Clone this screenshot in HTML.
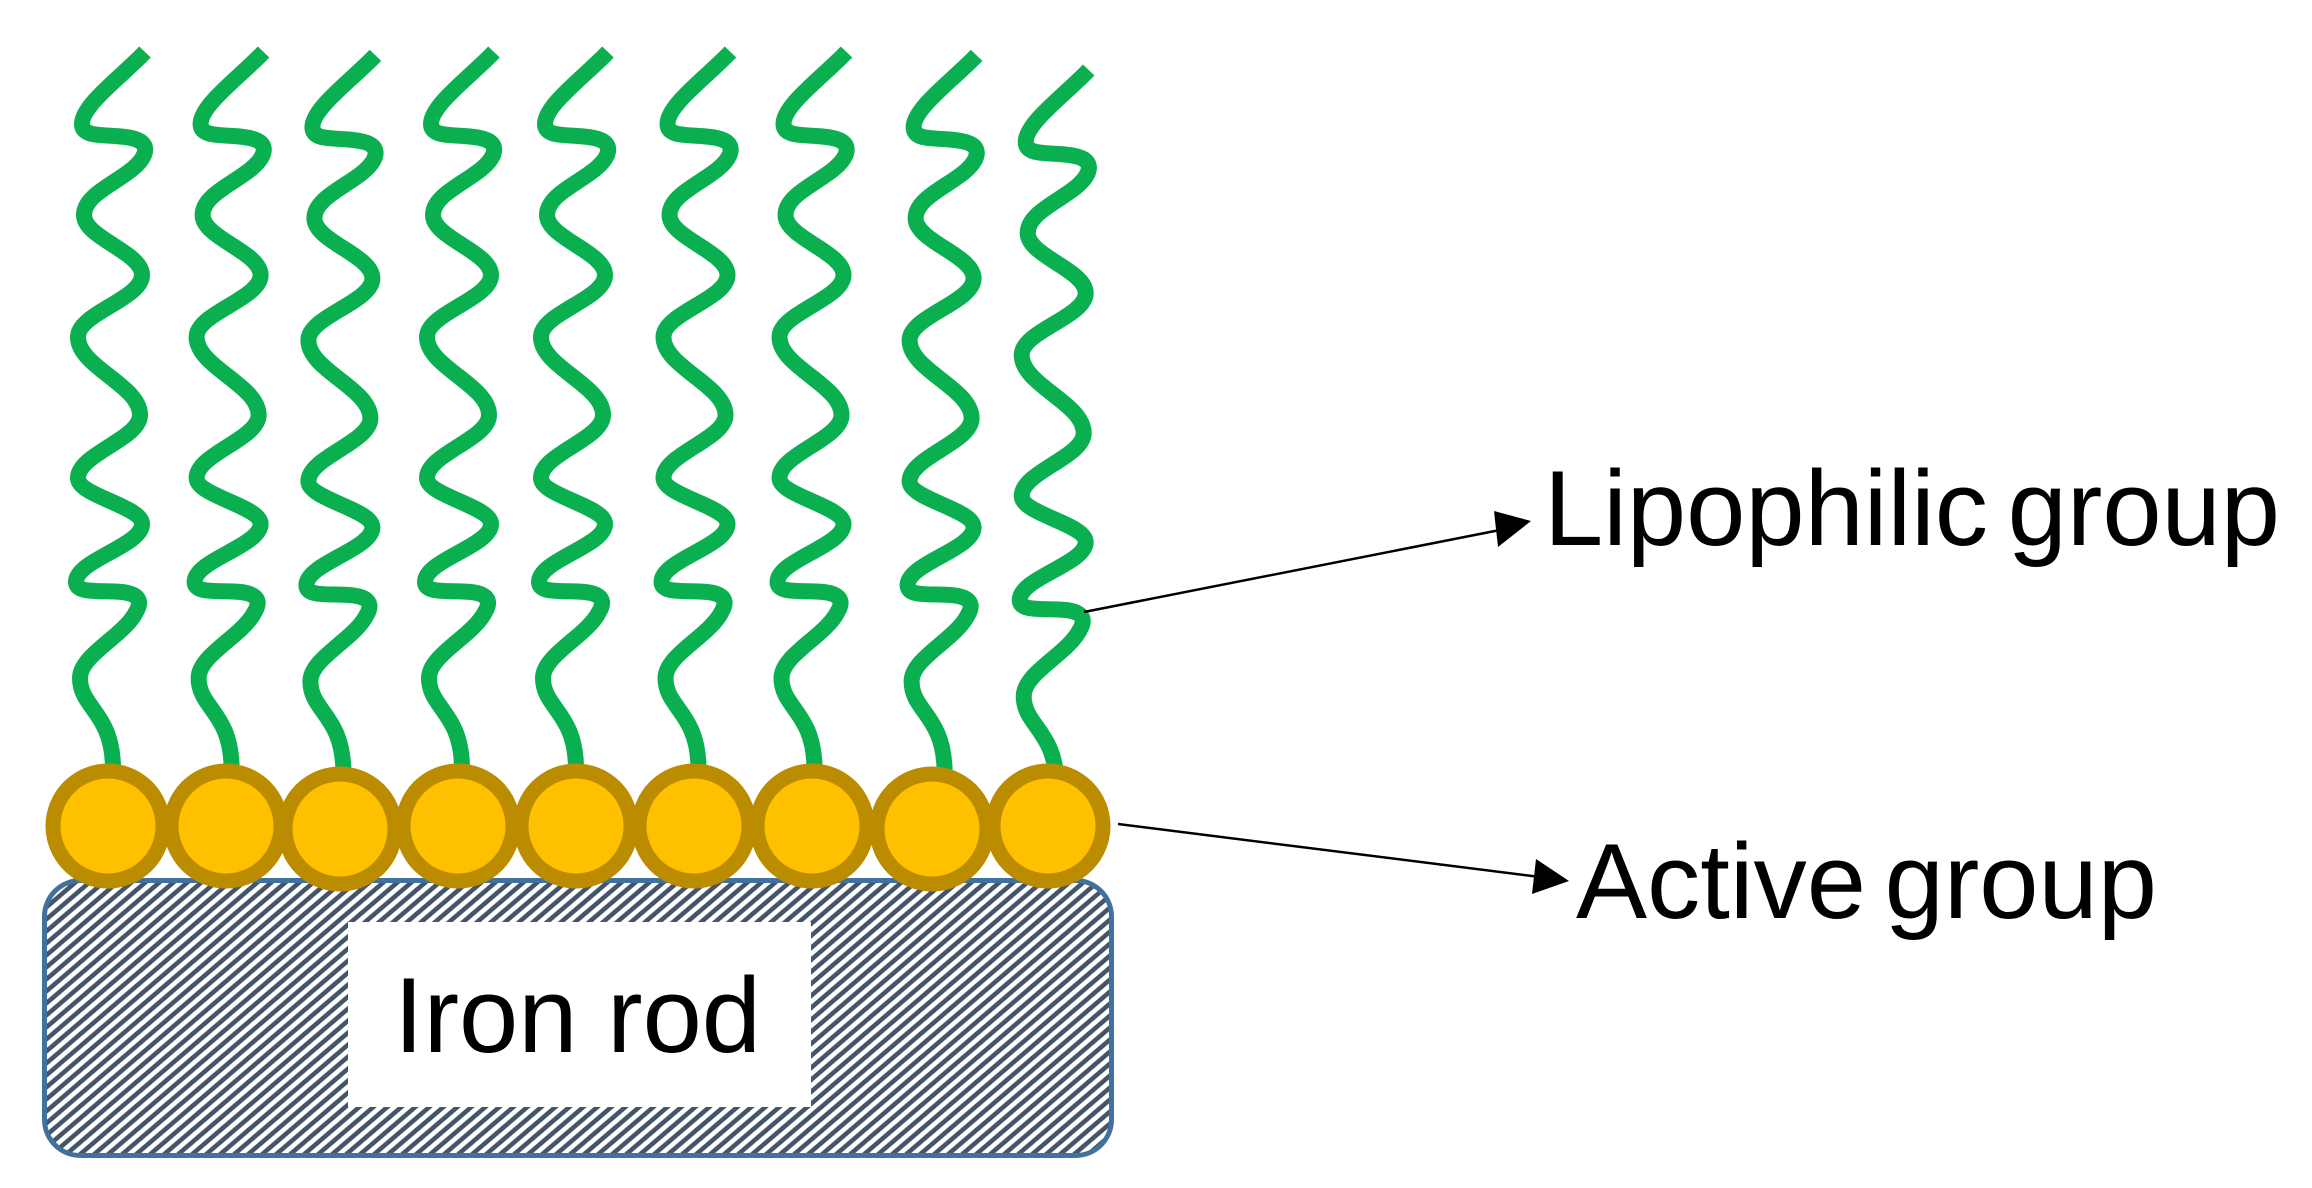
<!DOCTYPE html>
<html>
<head>
<meta charset="utf-8">
<style>
html,body{margin:0;padding:0;background:#fff;width:2312px;height:1188px;overflow:hidden}
svg{display:block}
text{font-family:"Liberation Sans",sans-serif;font-size:106.5px;fill:#000}
</style>
</head>
<body>
<svg width="2312" height="1188" viewBox="0 0 2312 1188" xmlns="http://www.w3.org/2000/svg">
<defs>
<pattern id="h" patternUnits="userSpaceOnUse" width="14" height="12" x="42" y="878">
<rect width="14" height="12" fill="#fff"/>
<polygon points="0,6 7,0 14,0 0,12" fill="#44546A"/>
<polygon points="14,6 7,12 14,12" fill="#44546A"/>
</pattern>
<path id="w" fill="none" stroke="#0AB050" stroke-width="16" d="M145 52 C120 78 82 105 82 124 C82 138 105 134 125 137 C142 139 148 145 144 155 C134 178 84 190 84 215 C84 238 142 252 142 275 C142 299 78 313 78 337 C78 367 140 385 140 415 C140 439 78 454 78 478 C78 496 142 506 142 524 C142 546 76 560 76 582 C76 594 100 590 122 592 C140 594 142 602 136 612 C124 636 80 655 80 678 C80 708 112 712 113 767"/>
</defs>

<rect x="44.5" y="880.5" width="1067" height="275" rx="36" fill="url(#h)" stroke="#41719C" stroke-width="5"/>
<rect x="348" y="922" width="463" height="185" fill="#fff"/>
<text x="394" y="1052">Iron rod</text>

<use href="#w"/>
<use href="#w" x="118.6"/>
<use href="#w" x="230.4" y="3.3"/>
<use href="#w" x="349"/>
<use href="#w" x="463"/>
<use href="#w" x="585.5"/>
<use href="#w" x="701.5"/>
<use href="#w" x="831.6" y="3.3"/>
<use href="#w" x="943.7" y="18"/>

<g fill="#FFC000" stroke="#BC8C00" stroke-width="15">
<circle cx="108" cy="826" r="55"/>
<circle cx="226" cy="826" r="55"/>
<circle cx="340" cy="829" r="55"/>
<circle cx="458" cy="826" r="55"/>
<circle cx="576" cy="826" r="55"/>
<circle cx="694" cy="826" r="55"/>
<circle cx="812" cy="826" r="55"/>
<circle cx="932" cy="829" r="55"/>
<circle cx="1048" cy="826" r="55"/>
</g>

<line x1="1084" y1="612" x2="1500" y2="530" stroke="#000" stroke-width="2.5"/>
<polygon points="1531,521 1494,511 1498,547" fill="#000"/>
<line x1="1118" y1="824" x2="1540" y2="877" stroke="#000" stroke-width="2.5"/>
<polygon points="1569,881 1536,859 1532,894" fill="#000"/>

<text x="1544" y="545" word-spacing="-10">Lipophilic group</text>
<text x="1576" y="918" word-spacing="-11">Active group</text>
</svg>
</body>
</html>
